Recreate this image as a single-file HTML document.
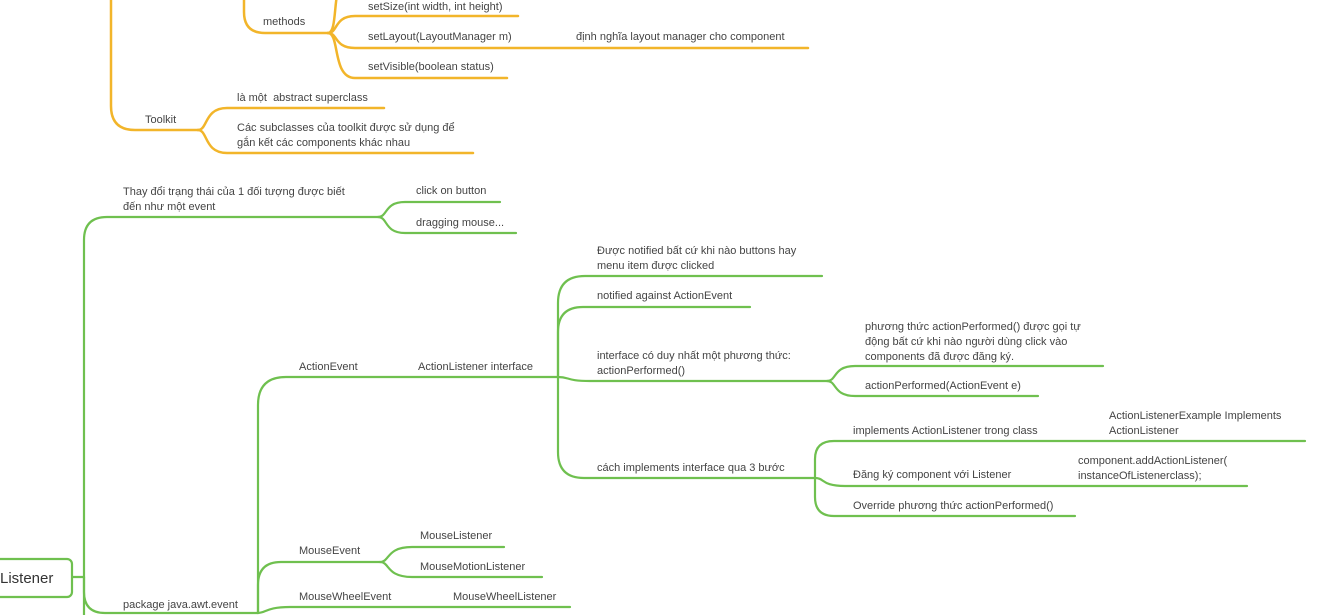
<!DOCTYPE html>
<html><head><meta charset="utf-8"><style>
html,body{margin:0;padding:0;background:#fff;}
#c{position:relative;width:1324px;height:615px;overflow:hidden;}
svg{position:absolute;left:0;top:0;}
.t{position:absolute;margin-top:2px;font-family:"Liberation Sans","Noto Sans CJK SC",sans-serif;font-size:11px;line-height:15px;color:#444;white-space:nowrap;}
</style></head><body><div id="c">
<svg width="1324" height="615" fill="none" stroke-linecap="round">
<g stroke="#f2b52a" stroke-width="2.5">
<path d="M111,-10 V106 Q111,130 135,130 H198"/>
<path d="M198,130 C208,130 204,108 227,108 H384"/>
<path d="M198,130 C208,130 204,153 227,153 H473"/>
<path d="M244,-10 V12 Q244,33 265,33 H328"/>
<path d="M328,33 C338,33 334,16 355,16 H518"/>
<path d="M328,33 C338,33 334,48 355,48 H808"/>
<path d="M328,33 C340,33 332,78 355,78 H507"/>
<path d="M328,33 C336,33 334,5 338,-10"/>
</g>
<g stroke="#6fc04f" stroke-width="2.2">
<path d="M72,577 H84"/>
<path d="M84,577 V240 Q84,217 107,217 H378"/>
<path d="M378,217 C388,217 384,202 405,202 H500"/>
<path d="M378,217 C388,217 384,233 405,233 H516"/>
<path d="M84,577 V592 Q84,613 105,613 H258"/>
<path d="M84,577 V625"/>
<path d="M258,613 V405 Q258,377 286,377 H558"/>
<path d="M258,613 V585 Q258,562 281,562 H380"/>
<path d="M258,613 C266,613 266,607 290,607 H570"/>
<path d="M380,562 C390,562 386,547 412,547 H504"/>
<path d="M380,562 C390,562 386,577 412,577 H542"/>
<path d="M558,377 V303 Q558,276 585,276 H822"/>
<path d="M558,377 V332 Q558,307 583,307 H750"/>
<path d="M558,377 C570,377 566,381 590,381 H827"/>
<path d="M558,377 V452 Q558,478 584,478 H815"/>
<path d="M827,381 C837,381 833,366 855,366 H1103"/>
<path d="M827,381 C837,381 833,396 855,396 H1038"/>
<path d="M815,478 V459 Q815,441 834,441 H1305"/>
<path d="M815,478 C825,478 821,486 845,486 H1247"/>
<path d="M815,478 V497 Q815,516 834,516 H1075"/>
</g>
<rect x="-20" y="559" width="92" height="38" rx="5" stroke="#6fc04f" stroke-width="2.2" fill="#fff"/>
</svg>
<div class="t" style="left:0;top:567px;font-size:15px;line-height:20px;color:#333">Listener</div>

<div class="t" style="left:368px;top:-2px">setSize(int width, int height)</div>
<div class="t" style="left:263px;top:13px">methods</div>
<div class="t" style="left:368px;top:28px">setLayout(LayoutManager m)</div>
<div class="t" style="left:576px;top:28px">định nghĩa layout manager cho component</div>
<div class="t" style="left:368px;top:58px">setVisible(boolean status)</div>
<div class="t" style="left:145px;top:111px">Toolkit</div>
<div class="t" style="left:237px;top:89px">là một&nbsp; abstract superclass</div>
<div class="t" style="left:237px;top:119px">Các subclasses của toolkit được sử dụng để<br>gắn kết các components khác nhau</div>

<div class="t" style="left:123px;top:183px">Thay đổi trạng thái của 1 đối tượng được biết<br>đến như một event</div>
<div class="t" style="left:416px;top:182px">click on button</div>
<div class="t" style="left:416px;top:214px">dragging mouse...</div>

<div class="t" style="left:597px;top:242px">Được notified bất cứ khi nào buttons hay<br>menu item được clicked</div>
<div class="t" style="left:597px;top:287px">notified against ActionEvent</div>
<div class="t" style="left:597px;top:347px">interface có duy nhất một phương thức:<br>actionPerformed()</div>
<div class="t" style="left:597px;top:459px">cách implements interface qua 3 bước</div>
<div class="t" style="left:865px;top:318px">phương thức actionPerformed() được gọi tự<br>động bất cứ khi nào người dùng click vào<br>components đã được đăng ký.</div>
<div class="t" style="left:865px;top:377px">actionPerformed(ActionEvent e)</div>
<div class="t" style="left:853px;top:422px">implements ActionListener trong class</div>
<div class="t" style="left:1109px;top:407px">ActionListenerExample Implements<br>ActionListener</div>
<div class="t" style="left:853px;top:466px">Đăng ký component với Listener</div>
<div class="t" style="left:1078px;top:452px">component.addActionListener(<br>instanceOfListenerclass);</div>
<div class="t" style="left:853px;top:497px">Override phương thức actionPerformed()</div>

<div class="t" style="left:299px;top:358px">ActionEvent</div>
<div class="t" style="left:418px;top:358px">ActionListener interface</div>
<div class="t" style="left:299px;top:542px">MouseEvent</div>
<div class="t" style="left:420px;top:527px">MouseListener</div>
<div class="t" style="left:420px;top:558px">MouseMotionListener</div>
<div class="t" style="left:299px;top:588px">MouseWheelEvent</div>
<div class="t" style="left:453px;top:588px">MouseWheelListener</div>
<div class="t" style="left:123px;top:596px">package java.awt.event</div>
</div></body></html>
